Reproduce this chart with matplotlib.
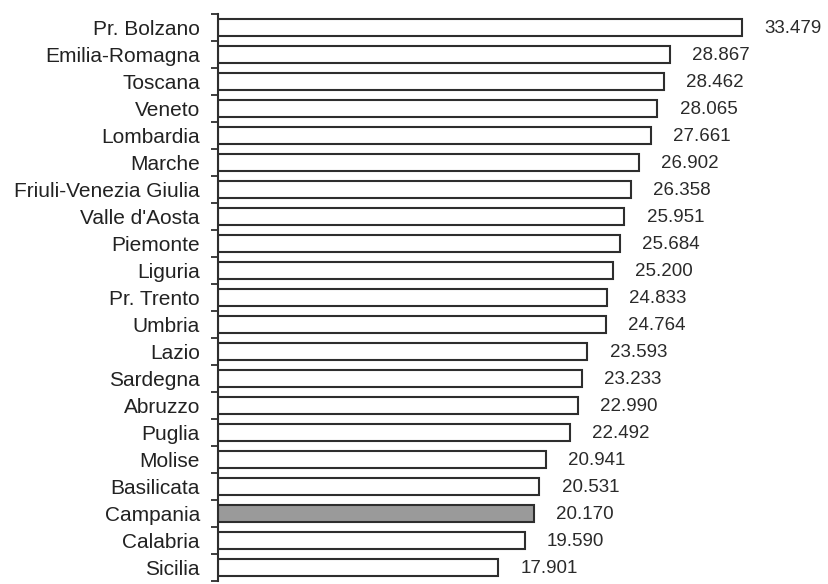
import numpy as np
import matplotlib
matplotlib.use('Agg')
import matplotlib.pyplot as plt

regions = ['Pr. Bolzano', 'Emilia-Romagna', 'Toscana', 'Veneto', 'Lombardia',
           'Marche', 'Friuli-Venezia Giulia', "Valle d'Aosta", 'Piemonte',
           'Liguria', 'Pr. Trento', 'Umbria', 'Lazio', 'Sardegna', 'Abruzzo',
           'Puglia', 'Molise', 'Basilicata', 'Campania', 'Calabria', 'Sicilia']
values = [33.479, 28.867, 28.462, 28.065, 27.661, 26.902, 26.358, 25.951,
          25.684, 25.200, 24.833, 24.764, 23.593, 23.233, 22.990, 22.492,
          20.941, 20.531, 20.170, 19.590, 17.901]
value_labels = ['33.479', '28.867', '28.462', '28.065', '27.661', '26.902',
                '26.358', '25.951', '25.684', '25.200', '24.833', '24.764',
                '23.593', '23.233', '22.990', '22.492', '20.941', '20.531',
                '20.170', '19.590', '17.901']
highlight = 'Campania'

plt.rcParams['font.family'] = ['Liberation Sans', 'DejaVu Sans']

W, H = 829, 584
fig = plt.figure(figsize=(W / 100, H / 100), dpi=100)
x0, x1 = 218, 813
y0, y1 = 14, 581
ax = fig.add_axes([x0 / W, 1 - y1 / H, (x1 - x0) / W, (y1 - y0) / H])

ypos = np.arange(len(regions))
colors = ['#9a9a9a' if r == highlight else 'white' for r in regions]
ax.barh(ypos, values, height=0.6, color=colors, edgecolor='#2e2e2e',
        linewidth=1.5, zorder=2)

for y, v, t in zip(ypos, values, value_labels):
    ax.annotate(t, xy=(v, y), xytext=(16, -1), textcoords='offset points',
                va='center', ha='left', fontsize=13.5, color='#2a2a2a',
                annotation_clip=False)

ax.set_xlim(0, 38)
ax.set_ylim(len(regions) - 0.5, -0.5)

ax.set_yticks(ypos)
ax.set_yticklabels(regions, fontsize=15, color='#222222')
ax.tick_params(axis='y', which='major', length=0, pad=13)
ax.set_yticks(np.arange(len(regions) + 1) - 0.5, minor=True)
ax.tick_params(axis='y', which='minor', length=5, width=1.3, color='#2e2e2e',
               direction='out')

ax.set_xticks([])
for s in ['top', 'right', 'bottom']:
    ax.spines[s].set_visible(False)
ax.spines['left'].set_linewidth(1.5)
ax.spines['left'].set_color('#2e2e2e')

fig.savefig('out.png', dpi=100)
